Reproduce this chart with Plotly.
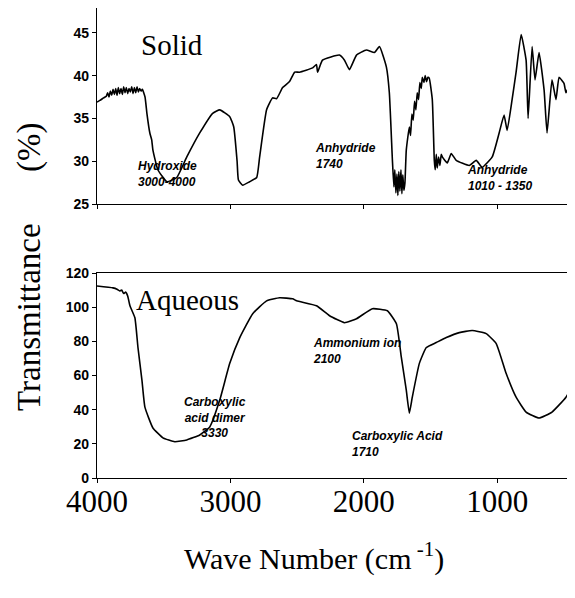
import plotly.graph_objects as go
from plotly.subplots import make_subplots

# ---------------- data ----------------
solid_wn = [4000, 3978, 3950, 3930, 3920, 3910, 3900, 3890, 3880, 3870, 3860, 3850, 3840, 3830,
            3820, 3810, 3800, 3790, 3780, 3770, 3760, 3750, 3740, 3730, 3720, 3710, 3700, 3690,
            3680, 3670, 3660, 3640, 3626, 3604, 3590, 3581, 3544, 3476, 3402, 3327, 3230, 3133,
            3080, 3005, 2975, 2950, 2940, 2908, 2856, 2803, 2781, 2729, 2684, 2654, 2609, 2557,
            2519, 2482, 2384, 2355, 2347, 2310, 2183, 2145, 2108, 2055, 1981, 1921, 1883, 1831,
            1809, 1786, 1775, 1768, 1760, 1752, 1745, 1738, 1730, 1722, 1715, 1708, 1700, 1692,
            1682, 1659, 1650, 1640, 1630, 1620, 1610, 1600, 1590, 1580, 1570, 1562, 1550, 1540,
            1530, 1520, 1510, 1487, 1472, 1465, 1457, 1450, 1440, 1430, 1420, 1412, 1375, 1345,
            1308, 1210, 1158, 1113, 1038, 986, 949, 926, 889, 859, 821, 784, 769, 739, 717, 687,
            649, 627, 590, 560, 537, 500, 485, 447, 425]
solid_t = [36.9, 37.1, 37.4, 37.6, 38.0, 37.5, 38.2, 37.7, 38.4, 37.8, 38.5, 37.7, 38.6, 37.9,
           38.5, 37.8, 38.7, 38.0, 38.6, 37.9, 38.5, 38.1, 38.7, 37.9, 38.6, 38.0, 38.7, 38.1,
           38.5, 38.2, 38.4, 37.5, 35.6, 33.3, 32.5, 31.3, 29.0, 27.6, 28.1, 30.5, 33.3, 35.6,
           36.0, 35.2, 34.0, 30.0, 27.8, 27.2, 27.6, 28.1, 30.5, 36.0, 37.4, 37.3, 38.6, 39.3,
           40.4, 40.4, 40.9, 41.3, 40.4, 41.8, 42.4, 41.8, 40.7, 42.4, 43.0, 42.7, 43.4, 41.0,
           38.0, 30.1, 27.0, 29.0, 26.3, 28.5, 26.0, 28.8, 26.5, 29.0, 26.2, 28.4, 26.6, 27.5,
           31.3, 34.0, 33.0, 35.5, 34.8, 37.0, 36.0, 38.0, 37.2, 39.2, 38.5, 39.8, 39.2, 40.0,
           39.3, 39.8, 39.7, 37.2, 30.1, 29.0, 30.8, 29.2, 30.5, 29.5, 30.8, 30.5, 29.8, 30.9,
           30.1, 29.5, 30.1, 29.3, 30.5, 33.3, 35.4, 33.6, 37.2, 40.4, 44.8, 41.8, 35.0, 43.4,
           39.5, 42.7, 38.3, 33.3, 39.5, 37.2, 39.8, 39.1, 38.0, 39.5, 43.0]

aqueous_wn = [4000, 3880, 3850, 3830, 3815, 3800, 3785, 3770, 3753, 3716, 3693, 3663, 3641, 3581,
              3506, 3417, 3327, 3230, 3155, 3080, 3005, 2930, 2833, 2729, 2631, 2534, 2504, 2355,
              2257, 2145, 2055, 1936, 1824, 1756, 1719, 1682, 1659, 1637, 1584, 1532, 1457, 1382,
              1285, 1188, 1083, 1008, 934, 859, 784, 687, 590, 485, 425]
aqueous_t = [112.4, 111.3, 110.5, 109.5, 110.0, 108.0, 108.8, 106.5, 100.8, 93.8, 76.4, 57.2, 41.5,
             29.3, 23.5, 21.2, 22.3, 25.2, 29.9, 45.6, 67.1, 82.2, 96.2, 103.7, 105.5, 104.9, 103.7,
             100.8, 95.0, 90.9, 93.2, 99.1, 97.9, 90.3, 70.6, 51.4, 38.0, 47.3, 67.1, 76.4, 79.3,
             82.2, 85.1, 86.3, 84.5, 78.7, 61.3, 47.3, 38.6, 35.1, 38.6, 47.3, 56.0]

x_ticks = [4000, 3000, 2000, 1000]
solid_yticks = [25, 30, 35, 40, 45]
aqueous_yticks = [0, 20, 40, 60, 80, 100, 120]

# ---------------- figure ----------------
# the page body has an 8px margin, so the figure is drawn 8px in from the
# top-left corner of the window; size and place everything accordingly
OFF = 8
W, H = 575 - OFF, 598 - OFF
ML, MR, MT, MB = 97 - OFF, 1, 0, 120
PW, PH = W - ML - MR, H - MT - MB


def px(xp):
    return (xp - OFF - ML) / PW


def py(yp):
    return (H - MB - (yp - OFF)) / PH


fig = make_subplots(rows=2, cols=1, shared_xaxes=False, vertical_spacing=0.1)

line = dict(color="black", width=1.6, shape="spline", smoothing=0.4)
fig.add_trace(go.Scatter(x=solid_wn, y=solid_t, mode="lines", line=line, showlegend=False), row=1, col=1)
fig.add_trace(go.Scatter(x=aqueous_wn, y=aqueous_t, mode="lines", line=line, showlegend=False), row=2, col=1)

axis_common = dict(showline=True, linecolor="black", linewidth=1.2, mirror=True,
                   showgrid=False, zeroline=False, ticks="outside", tickcolor="black",
                   ticklen=4)

fig.update_xaxes(range=[4000, 425], tickvals=x_ticks, **axis_common)
fig.update_xaxes(showticklabels=False, row=1, col=1)
fig.update_xaxes(tickfont=dict(family="Liberation Serif", size=31, color="black"),
                 ticklabelstandoff=-8, row=2, col=1)

fig.update_yaxes(tickfont=dict(family="Liberation Sans", size=14, color="black", weight="bold"),
                 **axis_common)
fig.update_yaxes(range=[25, 47.9], tickvals=solid_yticks, row=1, col=1)
fig.update_yaxes(range=[0, 120], tickvals=aqueous_yticks, row=2, col=1)

fig.update_layout(
    xaxis=dict(domain=[0, 1]), xaxis2=dict(domain=[0, 1]),
    yaxis=dict(domain=[py(204), 1]), yaxis2=dict(domain=[0, py(273)]),
)

ann_font = dict(family="Liberation Sans", size=12, color="black", weight="bold", style="italic")
serif = "Liberation Serif"
anns = [
    dict(text="Solid", x=px(172), y=py(45), font=dict(family=serif, size=29, color="black"),
         xanchor="center", yanchor="middle"),
    dict(text="Aqueous", x=px(187), y=py(300), font=dict(family=serif, size=29, color="black"),
         xanchor="center", yanchor="middle"),
    dict(text="Hydroxide<br>3000-4000", x=px(136), y=py(157), font=ann_font, xanchor="left",
         yanchor="top", align="left"),
    dict(text="Anhydride<br>1740", x=px(313), y=py(139), font=ann_font, xanchor="left",
         yanchor="top", align="left"),
    dict(text="Anhydride<br>1010 - 1350", x=px(465), y=py(161), font=ann_font, xanchor="left",
         yanchor="top", align="left"),
    dict(text="Carboxylic<br>acid dimer<br>3330", x=px(215), y=py(393), font=ann_font,
         xanchor="center", yanchor="top", align="center"),
    dict(text="Ammonium ion<br>2100", x=px(311), y=py(334), font=ann_font, xanchor="left",
         yanchor="top", align="left"),
    dict(text="Carboxylic Acid<br>1710", x=px(350), y=py(427), font=ann_font, xanchor="left",
         yanchor="top", align="left"),
    dict(text="Transmittance", x=px(29), y=py(317), textangle=-90,
         font=dict(family=serif, size=33, color="black"), xanchor="center", yanchor="middle"),
    dict(text="(%)", x=px(29), y=py(148), textangle=-90,
         font=dict(family=serif, size=33, color="black"), xanchor="center", yanchor="middle"),
    dict(text="Wave Number (cm<sup> -1</sup>)", x=px(314), y=py(556),
         font=dict(family=serif, size=30, color="black"), xanchor="center", yanchor="middle"),
]
for a in anns:
    a.update(xref="paper", yref="paper", showarrow=False)

fig.update_layout(
    width=W, height=H,
    margin=dict(l=ML, r=MR, t=MT, b=MB, autoexpand=False),
    paper_bgcolor="white", plot_bgcolor="white",
    annotations=anns,
)

fig.write_html("out.html")
